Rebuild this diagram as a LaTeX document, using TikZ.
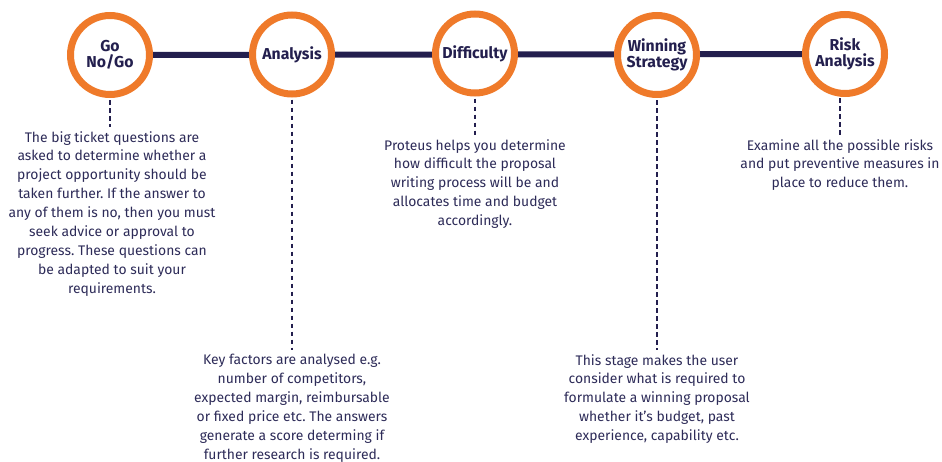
\documentclass[tikz,border=0pt]{standalone}
\usepackage{fontspec}
\setmainfont{Fira Sans}
\frenchspacing
\definecolor{navy}{HTML}{231F4E}
\definecolor{ink}{HTML}{2D2B58}
\definecolor{orng}{HTML}{EF7A2A}
\begin{document}
\begin{tikzpicture}[x=1pt,y=-1pt,
  stage/.style={circle,draw=orng,line width=7pt,fill=white,minimum size=79pt,inner sep=0pt,
    align=center,text=navy,font=\fontsize{15.8}{16.5}\selectfont\bfseries},
  desc/.style={anchor=north,align=center,inner sep=0pt,text=ink,font=\fontsize{13.9}{18.9}\selectfont},
  spine/.style={draw=navy,line width=6pt},
  drop/.style={draw=navy,line width=1.8pt,dash pattern=on 4.5pt off 3.5pt}]
\useasboundingbox (0,0) rectangle (942,461);
\coordinate (c1) at (110,55);
\coordinate (c2) at (292,54.5);
\coordinate (c3) at (475,53.5);
\coordinate (c4) at (657,55);
\coordinate (c5) at (845,54);
\draw[spine] (c1) -- (c5);
\node[stage] (s1) at (c1) {Go\\No/Go};
\node[stage] (s2) at (c2) {Analysis};
\node[stage] (s3) at (c3) {Difficulty};
\node[stage] (s4) at (c4) {Winning\\Strategy};
\node[stage] (s5) at (c5) {Risk\\Analysis};
\node[desc] (t1) at (112,131) {The big ticket questions are\\asked to determine whether a\\project opportunity should be\\taken further. If the answer to\\any of them is no, then you must\\seek advice or approval to\\progress. These questions can\\be adapted to suit your\\requirements.};
\node[desc] (t2) at (292,354) {Key factors are analysed e.g.\\number of competitors,\\expected margin, reimbursable\\or fixed price etc. The answers\\generate a score determing if\\further research is required.};
\node[desc] (t3) at (475,139) {Proteus helps you determine\\how difficult the proposal\\writing process will be and\\allocates time and budget\\accordingly.};
\node[desc] (t4) at (657,354) {This stage makes the user\\consider what is required to\\formulate a winning proposal\\whether it’s budget, past\\experience, capability etc.};
\node[desc] (t5) at (840,139) {Examine all the possible risks\\and put preventive measures in\\place to reduce them.};
\coordinate (d1) at (110,127);
\coordinate (d2) at (292,350);
\coordinate (d3) at (475,135);
\coordinate (d4) at (657,350);
\coordinate (d5) at (840,135);
\draw[drop] (s1.south) ++(0,2) -- (d1);
\draw[drop] (s2.south) ++(0,2) -- (d2);
\draw[drop] (s3.south) ++(0,2) -- (d3);
\draw[drop] (s4.south) ++(0,2) -- (d4);
\draw[drop] (840,98) -- (d5);
\end{tikzpicture}
\end{document}
